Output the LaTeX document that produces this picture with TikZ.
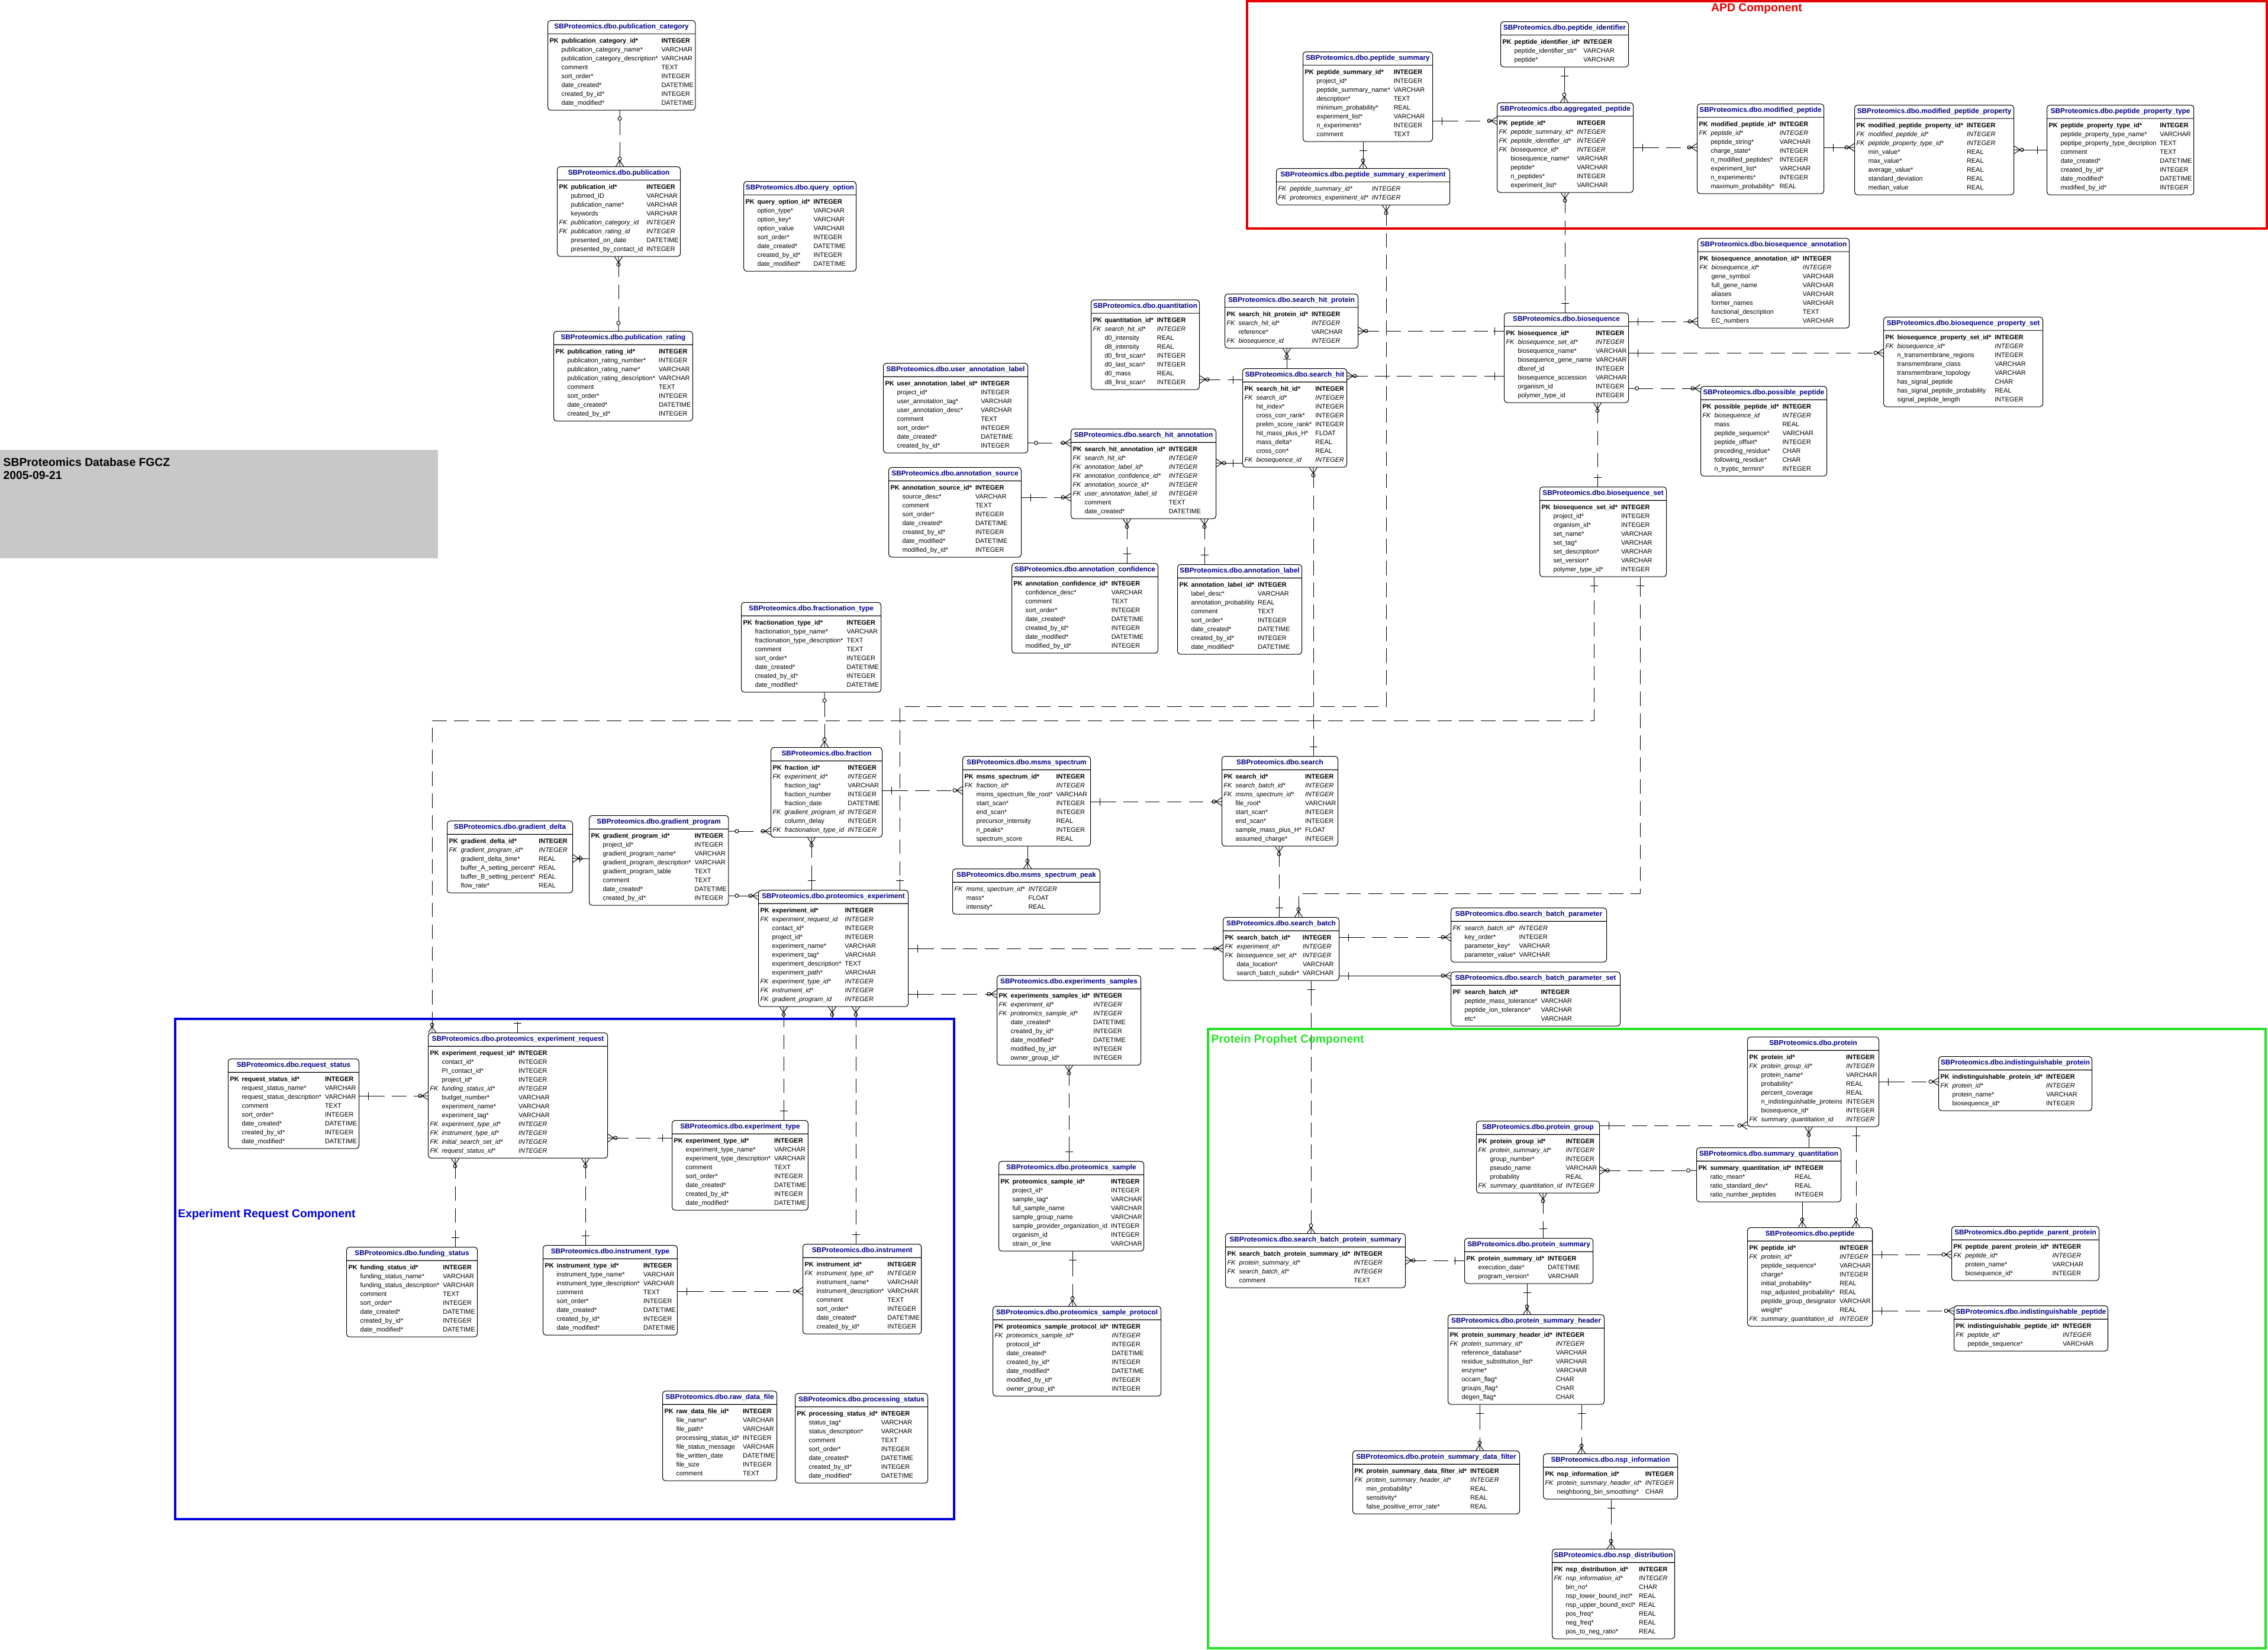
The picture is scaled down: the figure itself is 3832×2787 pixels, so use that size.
\documentclass[tikz,border=0pt]{standalone}
\usepackage{fontspec}
\setmainfont{Liberation Sans}
\usepackage{xcolor}
\usepackage{tikz}
\usetikzlibrary{shapes.multipart,arrows.meta}

\definecolor{titlenavy}{RGB}{0,0,128}
\definecolor{apdred}{RGB}{230,0,0}
\definecolor{reqblue}{RGB}{0,0,220}
\definecolor{ppgreen}{RGB}{40,225,40}
\definecolor{stampgray}{RGB}{200,200,200}

\pgfdeclarearrow{
	name = erCrow,
	setup code = {
		\pgfarrowssettipend{0pt}
		\pgfarrowssetbackend{-2.85pt}
		\pgfarrowssetlineend{-2.85pt}
	},
	drawing code = {
		\pgfsetdash{}{0pt}
		\pgfpathmoveto{\pgfqpoint{0pt}{1.85pt}}
		\pgfpathlineto{\pgfqpoint{-2.85pt}{0pt}}
		\pgfpathlineto{\pgfqpoint{0pt}{-1.85pt}}
		\pgfpathmoveto{\pgfqpoint{-2.85pt}{0pt}}
		\pgfpathlineto{\pgfqpoint{0pt}{0pt}}
		\pgfusepathqstroke
	}
}
\pgfdeclarearrow{
	name = erCirc,
	setup code = {
		\pgfarrowssettipend{0pt}
		\pgfarrowssetbackend{-1.7pt}
		\pgfarrowssetlineend{-1.7pt}
	},
	drawing code = {
		\pgfsetdash{}{0pt}
		\pgfpathcircle{\pgfqpoint{-0.85pt}{0pt}}{0.85pt}
		\pgfusepathqstroke
	}
}
\pgfdeclarearrow{
	name = erZero,
	setup code = {
		\pgfarrowssettipend{0pt}
		\pgfarrowssetbackend{-4.7pt}
		\pgfarrowssetlineend{-4.7pt}
	},
	drawing code = {
		\pgfsetdash{}{0pt}
		\pgfpathmoveto{\pgfqpoint{0pt}{0pt}}
		\pgfpathlineto{\pgfqpoint{-3pt}{0pt}}
		\pgfpathcircle{\pgfqpoint{-3.85pt}{0pt}}{0.85pt}
		\pgfusepathqstroke
	}
}
\pgfdeclarearrow{
	name = erOne,
	setup code = {
		\pgfarrowssettipend{0pt}
		\pgfarrowssetbackend{-5.1pt}
		\pgfarrowssetlineend{-5.1pt}
	},
	drawing code = {
		\pgfsetdash{}{0pt}
		\pgfpathmoveto{\pgfqpoint{0pt}{0pt}}
		\pgfpathlineto{\pgfqpoint{-5.1pt}{0pt}}
		\pgfpathmoveto{\pgfqpoint{-4.3pt}{1.85pt}}
		\pgfpathlineto{\pgfqpoint{-4.3pt}{-1.85pt}}
		\pgfusepathqstroke
	}
}

\newcommand{\pkey}[2]{\textbf{PK}&\textbf{#1}&\textbf{#2}\\}
\newcommand{\pfkey}[2]{\textbf{PF}&\textbf{#1}&\textbf{#2}\\}
\newcommand{\fkey}[2]{\textit{FK}&\textit{#1}&\textit{#2}\\}
\newcommand{\fld}[2]{&#1&#2\\}
\newcommand{\ertable}[5]{%
	\node[ertable, minimum width=#3*0.01cm] (#1) at (#2)
		{\textcolor{titlenavy}{\fontsize{3.35}{3.95}\selectfont\bfseries\rule[-1.15pt]{0pt}{3.95pt}#4}%
		\nodepart{two}\begin{tabular}{@{}p{5.7pt}@{}l@{\hspace{1.7pt}}l@{}}#5\end{tabular}};%
}

\begin{document}
\catcode`\_=12
\begin{tikzpicture}[x=0.01cm, y=-0.01cm,
	ertable/.style={rectangle split, rectangle split parts=2, draw, fill=white, line width=0.3pt,
		rounded corners=1.4pt, inner xsep=0.85pt, inner ysep=1.1pt, anchor=north west,
		rectangle split part align={center,left}, font=\fontsize{3.1}{4.27}\selectfont},
	rel/.style={line width=0.28pt, dash pattern=on 7pt off 3.5pt},
	idrel/.style={line width=0.28pt},
	onemany/.style={arrows={{erOne[]}-{erCirc[] erCrow[]}}},
	manyone/.style={arrows={{erCrow[] erCirc[]}-{erOne[]}}},
	zeromany/.style={arrows={{erZero[]}-{erCirc[] erCrow[]}}},
	manyzero/.style={arrows={{erCrow[] erCirc[]}-{erZero[]}}},
	manyplain/.style={arrows={{erCrow[] erCirc[]}-}},
	plainmany/.style={arrows={-{erCirc[] erCrow[]}}},
	comptitle/.style={font=\fontsize{5.5}{6.3}\selectfont\bfseries, inner sep=0pt}]
	\useasboundingbox (0,0) rectangle (3832,2787);

	\fill[stampgray] (0,760) rectangle (740,943);
	\node[comptitle, anchor=north west, align=left, font=\fontsize{5.5}{6.26}\selectfont\bfseries] (stamp) at (5,773) {SBProteomics Database FGCZ\\2005-09-21};

	\ertable{pubcat}{925,34}{249}{SBProteomics.dbo.publication_category}{%
		\pkey{publication_category_id*}{INTEGER}
		\fld{publication_category_name*}{VARCHAR}
		\fld{publication_category_description*}{VARCHAR}
		\fld{comment}{TEXT}
		\fld{sort_order*}{INTEGER}
		\fld{date_created*}{DATETIME}
		\fld{created_by_id*}{INTEGER}
		\fld{date_modified*}{DATETIME}}
	\ertable{pub}{941,281}{207}{SBProteomics.dbo.publication}{%
		\pkey{publication_id*}{INTEGER}
		\fld{pubmed_ID}{VARCHAR}
		\fld{publication_name*}{VARCHAR}
		\fld{keywords}{VARCHAR}
		\fkey{publication_category_id}{INTEGER}
		\fkey{publication_rating_id}{INTEGER}
		\fld{presented_on_date}{DATETIME}
		\fld{presented_by_contact_id}{INTEGER}}
	\ertable{queryopt}{1256,306}{190}{SBProteomics.dbo.query_option}{%
		\pkey{query_option_id*}{INTEGER}
		\fld{option_type*}{VARCHAR}
		\fld{option_key*}{VARCHAR}
		\fld{option_value}{VARCHAR}
		\fld{sort_order*}{INTEGER}
		\fld{date_created*}{DATETIME}
		\fld{created_by_id*}{INTEGER}
		\fld{date_modified*}{DATETIME}}
	\ertable{pubrating}{935,559}{232}{SBProteomics.dbo.publication_rating}{%
		\pkey{publication_rating_id*}{INTEGER}
		\fld{publication_rating_number*}{INTEGER}
		\fld{publication_rating_name*}{VARCHAR}
		\fld{publication_rating_description*}{VARCHAR}
		\fld{comment}{TEXT}
		\fld{sort_order*}{INTEGER}
		\fld{date_created*}{DATETIME}
		\fld{created_by_id*}{INTEGER}}

	\ertable{pepsummary}{2201,87}{219}{SBProteomics.dbo.peptide_summary}{%
		\pkey{peptide_summary_id*}{INTEGER}
		\fld{project_id*}{INTEGER}
		\fld{peptide_summary_name*}{VARCHAR}
		\fld{description*}{TEXT}
		\fld{minimum_probability*}{REAL}
		\fld{experiment_list*}{VARCHAR}
		\fld{n_experiments*}{INTEGER}
		\fld{comment}{TEXT}}
	\ertable{pepident}{2535,36}{216}{SBProteomics.dbo.peptide_identifier}{%
		\pkey{peptide_identifier_id*}{INTEGER}
		\fld{peptide_identifier_str*}{VARCHAR}
		\fld{peptide*}{VARCHAR}}
	\ertable{aggpep}{2529,173}{230}{SBProteomics.dbo.aggregated_peptide}{%
		\pkey{peptide_id*}{INTEGER}
		\fkey{peptide_summary_id*}{INTEGER}
		\fkey{peptide_identifier_id*}{INTEGER}
		\fkey{biosequence_id*}{INTEGER}
		\fld{biosequence_name*}{VARCHAR}
		\fld{peptide*}{VARCHAR}
		\fld{n_peptides*}{INTEGER}
		\fld{experiment_list*}{VARCHAR}}
	\ertable{pepsumexp}{2156,284}{293}{SBProteomics.dbo.peptide_summary_experiment}{%
		\fkey{peptide_summary_id*}{INTEGER}
		\fkey{proteomics_experiment_id*}{INTEGER}}
	\ertable{modpep}{2867,175}{214}{SBProteomics.dbo.modified_peptide}{%
		\pkey{modified_peptide_id*}{INTEGER}
		\fkey{peptide_id*}{INTEGER}
		\fld{peptide_string*}{VARCHAR}
		\fld{charge_state*}{INTEGER}
		\fld{n_modified_peptides*}{INTEGER}
		\fld{experiment_list*}{VARCHAR}
		\fld{n_experiments*}{INTEGER}
		\fld{maximum_probability*}{REAL}}
	\ertable{modpepprop}{3133,177}{269}{SBProteomics.dbo.modified_peptide_property}{%
		\pkey{modified_peptide_property_id*}{INTEGER}
		\fkey{modified_peptide_id*}{INTEGER}
		\fkey{peptide_property_type_id*}{INTEGER}
		\fld{min_value*}{REAL}
		\fld{max_value*}{REAL}
		\fld{average_value*}{REAL}
		\fld{standard_deviation}{REAL}
		\fld{median_value}{REAL}}
	\ertable{pepproptype}{3458,177}{246}{SBProteomics.dbo.peptide_property_type}{%
		\pkey{peptide_property_type_id*}{INTEGER}
		\fld{peptide_property_type_name*}{VARCHAR}
		\fld{peptipe_property_type_decription}{TEXT}
		\fld{comment}{TEXT}
		\fld{date_created*}{DATETIME}
		\fld{created_by_id*}{INTEGER}
		\fld{date_modified*}{DATETIME}
		\fld{modified_by_id*}{INTEGER}}

	\ertable{quant}{1843,506}{183}{SBProteomics.dbo.quantitation}{%
		\pkey{quantitation_id*}{INTEGER}
		\fkey{search_hit_id*}{INTEGER}
		\fld{d0_intensity}{REAL}
		\fld{d8_intensity}{REAL}
		\fld{d0_first_scan*}{INTEGER}
		\fld{d0_last_scan*}{INTEGER}
		\fld{d0_mass}{REAL}
		\fld{d8_first_scan*}{INTEGER}}
	\ertable{shprotein}{2069,496}{225}{SBProteomics.dbo.search_hit_protein}{%
		\pkey{search_hit_protein_id*}{INTEGER}
		\fkey{search_hit_id*}{INTEGER}
		\fld{reference*}{VARCHAR}
		\fkey{biosequence_id}{INTEGER}}
	\ertable{userlabel}{1492,613}{244}{SBProteomics.dbo.user_annotation_label}{%
		\pkey{user_annotation_label_id*}{INTEGER}
		\fld{project_id*}{INTEGER}
		\fld{user_annotation_tag*}{VARCHAR}
		\fld{user_annotation_desc*}{VARCHAR}
		\fld{comment}{TEXT}
		\fld{sort_order*}{INTEGER}
		\fld{date_created*}{DATETIME}
		\fld{created_by_id*}{INTEGER}}
	\ertable{searchhit}{2099,622}{176}{SBProteomics.dbo.search_hit}{%
		\pkey{search_hit_id*}{INTEGER}
		\fkey{search_id*}{INTEGER}
		\fld{hit_index*}{INTEGER}
		\fld{cross_corr_rank*}{INTEGER}
		\fld{prelim_score_rank*}{INTEGER}
		\fld{hit_mass_plus_H*}{FLOAT}
		\fld{mass_delta*}{REAL}
		\fld{cross_corr*}{REAL}
		\fkey{biosequence_id}{INTEGER}}
	\ertable{shannot}{1809,724}{245}{SBProteomics.dbo.search_hit_annotation}{%
		\pkey{search_hit_annotation_id*}{INTEGER}
		\fkey{search_hit_id*}{INTEGER}
		\fkey{annotation_label_id*}{INTEGER}
		\fkey{annotation_confidence_id*}{INTEGER}
		\fkey{annotation_source_id*}{INTEGER}
		\fkey{user_annotation_label_id}{INTEGER}
		\fld{comment}{TEXT}
		\fld{date_created*}{DATETIME}}
	\ertable{annsource}{1501,789}{224}{SBProteomics.dbo.annotation_source}{%
		\pkey{annotation_source_id*}{INTEGER}
		\fld{source_desc*}{VARCHAR}
		\fld{comment}{TEXT}
		\fld{sort_order*}{INTEGER}
		\fld{date_created*}{DATETIME}
		\fld{created_by_id*}{INTEGER}
		\fld{date_modified*}{DATETIME}
		\fld{modified_by_id*}{INTEGER}}
	\ertable{annconf}{1709,951}{247}{SBProteomics.dbo.annotation_confidence}{%
		\pkey{annotation_confidence_id*}{INTEGER}
		\fld{confidence_desc*}{VARCHAR}
		\fld{comment}{TEXT}
		\fld{sort_order*}{INTEGER}
		\fld{date_created*}{DATETIME}
		\fld{created_by_id*}{INTEGER}
		\fld{date_modified*}{DATETIME}
		\fld{modified_by_id*}{INTEGER}}
	\ertable{annlabel}{1989,953}{210}{SBProteomics.dbo.annotation_label}{%
		\pkey{annotation_label_id*}{INTEGER}
		\fld{label_desc*}{VARCHAR}
		\fld{annotation_probability}{REAL}
		\fld{comment}{TEXT}
		\fld{sort_order*}{INTEGER}
		\fld{date_created*}{DATETIME}
		\fld{created_by_id*}{INTEGER}
		\fld{date_modified*}{DATETIME}}

	\ertable{bioannot}{2868,402}{256}{SBProteomics.dbo.biosequence_annotation}{%
		\pkey{biosequence_annotation_id*}{INTEGER}
		\fkey{biosequence_id*}{INTEGER}
		\fld{gene_symbol}{VARCHAR}
		\fld{full_gene_name}{VARCHAR}
		\fld{aliases}{VARCHAR}
		\fld{former_names}{VARCHAR}
		\fld{functional_description}{TEXT}
		\fld{EC_numbers}{VARCHAR}}
	\ertable{bioseq}{2541,528}{209}{SBProteomics.dbo.biosequence}{%
		\pkey{biosequence_id*}{INTEGER}
		\fkey{biosequence_set_id*}{INTEGER}
		\fld{biosequence_name*}{VARCHAR}
		\fld{biosequence_gene_name}{VARCHAR}
		\fld{dbxref_id}{INTEGER}
		\fld{biosequence_accession}{VARCHAR}
		\fld{organism_id}{INTEGER}
		\fld{polymer_type_id}{INTEGER}}
	\ertable{biopropset}{3182,535}{269}{SBProteomics.dbo.biosequence_property_set}{%
		\pkey{biosequence_property_set_id*}{INTEGER}
		\fkey{biosequence_id*}{INTEGER}
		\fld{n_transmembrane_regions}{INTEGER}
		\fld{transmembrane_class}{VARCHAR}
		\fld{transmembrane_topology}{VARCHAR}
		\fld{has_signal_peptide}{CHAR}
		\fld{has_signal_peptide_probability}{REAL}
		\fld{signal_peptide_length}{INTEGER}}
	\ertable{posspep}{2873,652}{213}{SBProteomics.dbo.possible_peptide}{%
		\pkey{possible_peptide_id*}{INTEGER}
		\fkey{biosequence_id}{INTEGER}
		\fld{mass}{REAL}
		\fld{peptide_sequence*}{VARCHAR}
		\fld{peptide_offset*}{INTEGER}
		\fld{preceding_residue*}{CHAR}
		\fld{following_residue*}{CHAR}
		\fld{n_tryptic_termini*}{INTEGER}}
	\ertable{bioset}{2601,822}{214}{SBProteomics.dbo.biosequence_set}{%
		\pkey{biosequence_set_id*}{INTEGER}
		\fld{project_id*}{INTEGER}
		\fld{organism_id*}{INTEGER}
		\fld{set_name*}{VARCHAR}
		\fld{set_tag*}{VARCHAR}
		\fld{set_description*}{VARCHAR}
		\fld{set_version*}{VARCHAR}
		\fld{polymer_type_id*}{INTEGER}}

	\ertable{fractype}{1252,1017}{236}{SBProteomics.dbo.fractionation_type}{%
		\pkey{fractionation_type_id*}{INTEGER}
		\fld{fractionation_type_name*}{VARCHAR}
		\fld{fractionation_type_description*}{TEXT}
		\fld{comment}{TEXT}
		\fld{sort_order*}{INTEGER}
		\fld{date_created*}{DATETIME}
		\fld{created_by_id*}{INTEGER}
		\fld{date_modified*}{DATETIME}}
	\ertable{fraction}{1302,1262}{188}{SBProteomics.dbo.fraction}{%
		\pkey{fraction_id*}{INTEGER}
		\fkey{experiment_id*}{INTEGER}
		\fld{fraction_tag*}{VARCHAR}
		\fld{fraction_number}{INTEGER}
		\fld{fraction_date}{DATETIME}
		\fkey{gradient_program_id}{INTEGER}
		\fld{column_delay}{INTEGER}
		\fkey{fractionation_type_id}{INTEGER}}
	\ertable{graddelta}{755,1386}{212}{SBProteomics.dbo.gradient_delta}{%
		\pkey{gradient_delta_id*}{INTEGER}
		\fkey{gradient_program_id*}{INTEGER}
		\fld{gradient_delta_time*}{REAL}
		\fld{buffer_A_setting_percent*}{REAL}
		\fld{buffer_B_setting_percent*}{REAL}
		\fld{flow_rate*}{REAL}}
	\ertable{gradprog}{995,1377}{234}{SBProteomics.dbo.gradient_program}{%
		\pkey{gradient_program_id*}{INTEGER}
		\fld{project_id*}{INTEGER}
		\fld{gradient_program_name*}{VARCHAR}
		\fld{gradient_program_description*}{VARCHAR}
		\fld{gradient_program_table}{TEXT}
		\fld{comment}{TEXT}
		\fld{date_created*}{DATETIME}
		\fld{created_by_id*}{INTEGER}}
	\ertable{protexp}{1281,1503}{253}{SBProteomics.dbo.proteomics_experiment}{%
		\pkey{experiment_id*}{INTEGER}
		\fkey{experiment_request_id}{INTEGER}
		\fld{contact_id*}{INTEGER}
		\fld{project_id*}{INTEGER}
		\fld{experiment_name*}{VARCHAR}
		\fld{experiment_tag*}{VARCHAR}
		\fld{experiment_description*}{TEXT}
		\fld{experiment_path*}{VARCHAR}
		\fkey{experiment_type_id*}{INTEGER}
		\fkey{instrument_id*}{INTEGER}
		\fkey{gradient_program_id}{INTEGER}}
	\ertable{msms}{1626,1277}{216}{SBProteomics.dbo.msms_spectrum}{%
		\pkey{msms_spectrum_id*}{INTEGER}
		\fkey{fraction_id*}{INTEGER}
		\fld{msms_spectrum_file_root*}{VARCHAR}
		\fld{start_scan*}{INTEGER}
		\fld{end_scan*}{INTEGER}
		\fld{precursor_intensity}{REAL}
		\fld{n_peaks*}{INTEGER}
		\fld{spectrum_score}{REAL}}
	\ertable{msmspeak}{1609,1467}{249}{SBProteomics.dbo.msms_spectrum_peak}{%
		\fkey{msms_spectrum_id*}{INTEGER}
		\fld{mass*}{FLOAT}
		\fld{intensity*}{REAL}}
	\ertable{search}{2064,1277}{193}{SBProteomics.dbo.search}{%
		\pkey{search_id*}{INTEGER}
		\fkey{search_batch_id*}{INTEGER}
		\fkey{msms_spectrum_id*}{INTEGER}
		\fld{file_root*}{VARCHAR}
		\fld{start_scan*}{INTEGER}
		\fld{end_scan*}{INTEGER}
		\fld{sample_mass_plus_H*}{FLOAT}
		\fld{assumed_charge*}{INTEGER}}
	\ertable{searchbatch}{2066,1549}{196}{SBProteomics.dbo.search_batch}{%
		\pkey{search_batch_id*}{INTEGER}
		\fkey{experiment_id*}{INTEGER}
		\fkey{biosequence_set_id*}{INTEGER}
		\fld{data_location*}{VARCHAR}
		\fld{search_batch_subdir*}{VARCHAR}}
	\ertable{sbparam}{2451,1533}{263}{SBProteomics.dbo.search_batch_parameter}{%
		\fkey{search_batch_id*}{INTEGER}
		\fld{key_order*}{INTEGER}
		\fld{parameter_key*}{VARCHAR}
		\fld{parameter_value*}{VARCHAR}}
	\ertable{sbparamset}{2451,1641}{286}{SBProteomics.dbo.search_batch_parameter_set}{%
		\pfkey{search_batch_id*}{INTEGER}
		\fld{peptide_mass_tolerance*}{VARCHAR}
		\fld{peptide_ion_tolerance*}{VARCHAR}
		\fld{etc*}{VARCHAR}}
	\ertable{expsamples}{1684,1647}{243}{SBProteomics.dbo.experiments_samples}{%
		\pkey{experiments_samples_id*}{INTEGER}
		\fkey{experiment_id*}{INTEGER}
		\fkey{proteomics_sample_id*}{INTEGER}
		\fld{date_created*}{DATETIME}
		\fld{created_by_id*}{INTEGER}
		\fld{date_modified*}{DATETIME}
		\fld{modified_by_id*}{INTEGER}
		\fld{owner_group_id*}{INTEGER}}
	\ertable{protsample}{1687,1961}{245}{SBProteomics.dbo.proteomics_sample}{%
		\pkey{proteomics_sample_id*}{INTEGER}
		\fld{project_id*}{INTEGER}
		\fld{sample_tag*}{VARCHAR}
		\fld{full_sample_name}{VARCHAR}
		\fld{sample_group_name}{VARCHAR}
		\fld{sample_provider_organization_id}{INTEGER}
		\fld{organism_id}{INTEGER}
		\fld{strain_or_line}{VARCHAR}}
	\ertable{sampleprotocol}{1677,2206}{284}{SBProteomics.dbo.proteomics_sample_protocol}{%
		\pkey{proteomics_sample_protocol_id*}{INTEGER}
		\fkey{proteomics_sample_id*}{INTEGER}
		\fld{protocol_id*}{INTEGER}
		\fld{date_created*}{DATETIME}
		\fld{created_by_id*}{INTEGER}
		\fld{date_modified*}{DATETIME}
		\fld{modified_by_id*}{INTEGER}
		\fld{owner_group_id*}{INTEGER}}

	\ertable{reqstatus}{385,1788}{221}{SBProteomics.dbo.request_status}{%
		\pkey{request_status_id*}{INTEGER}
		\fld{request_status_name*}{VARCHAR}
		\fld{request_status_description*}{VARCHAR}
		\fld{comment}{TEXT}
		\fld{sort_order*}{INTEGER}
		\fld{date_created*}{DATETIME}
		\fld{created_by_id*}{INTEGER}
		\fld{date_modified*}{DATETIME}}
	\ertable{expreq}{723,1744}{303}{SBProteomics.dbo.proteomics_experiment_request}{%
		\pkey{experiment_request_id*}{INTEGER}
		\fld{contact_id*}{INTEGER}
		\fld{PI_contact_id*}{INTEGER}
		\fld{project_id*}{INTEGER}
		\fkey{funding_status_id*}{INTEGER}
		\fld{budget_number*}{VARCHAR}
		\fld{experiment_name*}{VARCHAR}
		\fld{experiment_tag*}{VARCHAR}
		\fkey{experiment_type_id*}{INTEGER}
		\fkey{instrument_type_id*}{INTEGER}
		\fkey{initial_search_set_id*}{INTEGER}
		\fkey{request_status_id*}{INTEGER}}
	\ertable{exptype}{1135,1892}{227}{SBProteomics.dbo.experiment_type}{%
		\pkey{experiment_type_id*}{INTEGER}
		\fld{experiment_type_name*}{VARCHAR}
		\fld{experiment_type_description*}{VARCHAR}
		\fld{comment}{TEXT}
		\fld{sort_order*}{INTEGER}
		\fld{date_created*}{DATETIME}
		\fld{created_by_id*}{INTEGER}
		\fld{date_modified*}{DATETIME}}
	\ertable{fundstatus}{585,2106}{221}{SBProteomics.dbo.funding_status}{%
		\pkey{funding_status_id*}{INTEGER}
		\fld{funding_status_name*}{VARCHAR}
		\fld{funding_status_description*}{VARCHAR}
		\fld{comment}{TEXT}
		\fld{sort_order*}{INTEGER}
		\fld{date_created*}{DATETIME}
		\fld{created_by_id*}{INTEGER}
		\fld{date_modified*}{DATETIME}}
	\ertable{insttype}{917,2103}{225}{SBProteomics.dbo.instrument_type}{%
		\pkey{instrument_type_id*}{INTEGER}
		\fld{instrument_type_name*}{VARCHAR}
		\fld{instrument_type_description*}{VARCHAR}
		\fld{comment}{TEXT}
		\fld{sort_order*}{INTEGER}
		\fld{date_created*}{DATETIME}
		\fld{created_by_id*}{INTEGER}
		\fld{date_modified*}{DATETIME}}
	\ertable{instrument}{1356,2101}{198}{SBProteomics.dbo.instrument}{%
		\pkey{instrument_id*}{INTEGER}
		\fkey{instrument_type_id*}{INTEGER}
		\fld{instrument_name*}{VARCHAR}
		\fld{instrument_description*}{VARCHAR}
		\fld{comment}{TEXT}
		\fld{sort_order*}{INTEGER}
		\fld{date_created*}{DATETIME}
		\fld{created_by_id*}{INTEGER}}
	\ertable{rawdata}{1119,2349}{193}{SBProteomics.dbo.raw_data_file}{%
		\pkey{raw_data_file_id*}{INTEGER}
		\fld{file_name*}{VARCHAR}
		\fld{file_path*}{VARCHAR}
		\fld{processing_status_id*}{INTEGER}
		\fld{file_status_message}{VARCHAR}
		\fld{file_written_date}{DATETIME}
		\fld{file_size}{INTEGER}
		\fld{comment}{TEXT}}
	\ertable{procstatus}{1343,2353}{224}{SBProteomics.dbo.processing_status}{%
		\pkey{processing_status_id*}{INTEGER}
		\fld{status_tag*}{VARCHAR}
		\fld{status_description*}{VARCHAR}
		\fld{comment}{TEXT}
		\fld{sort_order*}{INTEGER}
		\fld{date_created*}{DATETIME}
		\fld{created_by_id*}{INTEGER}
		\fld{date_modified*}{DATETIME}}

	\ertable{protein}{2952,1751}{219}{SBProteomics.dbo.protein}{%
		\pkey{protein_id*}{INTEGER}
		\fkey{protein_group_id*}{INTEGER}
		\fld{protein_name*}{VARCHAR}
		\fld{probability*}{REAL}
		\fld{percent_coverage}{REAL}
		\fld{n_indistinguishable_proteins}{INTEGER}
		\fld{biosequence_id*}{INTEGER}
		\fkey{summary_quantitation_id}{INTEGER}}
	\ertable{indprotein}{3275,1784}{259}{SBProteomics.dbo.indistinguishable_protein}{%
		\pkey{indistinguishable_protein_id*}{INTEGER}
		\fkey{protein_id*}{INTEGER}
		\fld{protein_name*}{VARCHAR}
		\fld{biosequence_id*}{INTEGER}}
	\ertable{protgroup}{2494,1893}{208}{SBProteomics.dbo.protein_group}{%
		\pkey{protein_group_id*}{INTEGER}
		\fkey{protein_summary_id*}{INTEGER}
		\fld{group_number*}{INTEGER}
		\fld{pseudo_name}{VARCHAR}
		\fld{probability}{REAL}
		\fkey{summary_quantitation_id}{INTEGER}}
	\ertable{sumquant}{2866,1938}{244}{SBProteomics.dbo.summary_quantitation}{%
		\pkey{summary_quantitation_id*}{INTEGER}
		\fld{ratio_mean*}{REAL}
		\fld{ratio_standard_dev*}{REAL}
		\fld{ratio_number_peptides}{INTEGER}}
	\ertable{peptide}{2952,2073}{210}{SBProteomics.dbo.peptide}{%
		\pkey{peptide_id*}{INTEGER}
		\fkey{protein_id*}{INTEGER}
		\fld{peptide_sequence*}{VARCHAR}
		\fld{charge*}{INTEGER}
		\fld{initial_probability*}{REAL}
		\fld{nsp_adjusted_probability*}{REAL}
		\fld{peptide_group_designator}{VARCHAR}
		\fld{weight*}{REAL}
		\fkey{summary_quantitation_id}{INTEGER}}
	\ertable{pepparent}{3297,2071}{249}{SBProteomics.dbo.peptide_parent_protein}{%
		\pkey{peptide_parent_protein_id*}{INTEGER}
		\fkey{peptide_id*}{INTEGER}
		\fld{protein_name*}{VARCHAR}
		\fld{biosequence_id*}{INTEGER}}
	\ertable{indpeptide}{3301,2205}{257}{SBProteomics.dbo.indistinguishable_peptide}{%
		\pkey{indistinguishable_peptide_id*}{INTEGER}
		\fkey{peptide_id*}{INTEGER}
		\fld{peptide_sequence*}{VARCHAR}}
	\ertable{sbprotsum}{2070,2083}{304}{SBProteomics.dbo.search_batch_protein_summary}{%
		\pkey{search_batch_protein_summary_id*}{INTEGER}
		\fkey{protein_summary_id*}{INTEGER}
		\fkey{search_batch_id*}{INTEGER}
		\fld{comment}{TEXT}}
	\ertable{protsum}{2474,2091}{217}{SBProteomics.dbo.protein_summary}{%
		\pkey{protein_summary_id*}{INTEGER}
		\fld{execution_date*}{DATETIME}
		\fld{program_version*}{VARCHAR}}
	\ertable{protsumheader}{2446,2220}{264}{SBProteomics.dbo.protein_summary_header}{%
		\pkey{protein_summary_header_id*}{INTEGER}
		\fkey{protein_summary_id*}{INTEGER}
		\fld{reference_database*}{VARCHAR}
		\fld{residue_substitution_list*}{VARCHAR}
		\fld{enzyme*}{VARCHAR}
		\fld{occam_flag*}{CHAR}
		\fld{groups_flag*}{CHAR}
		\fld{degen_flag*}{CHAR}}
	\ertable{psdatafilter}{2285,2450}{282}{SBProteomics.dbo.protein_summary_data_filter}{%
		\pkey{protein_summary_data_filter_id*}{INTEGER}
		\fkey{protein_summary_header_id*}{INTEGER}
		\fld{min_probability*}{REAL}
		\fld{sensitivity*}{REAL}
		\fld{false_positive_error_rate*}{REAL}}
	\ertable{nspinfo}{2607,2455}{227}{SBProteomics.dbo.nsp_information}{%
		\pkey{nsp_information_id*}{INTEGER}
		\fkey{protein_summary_header_id*}{INTEGER}
		\fld{neighboring_bin_smoothing*}{CHAR}}
	\ertable{nspdist}{2622,2616}{206}{SBProteomics.dbo.nsp_distribution}{%
		\pkey{nsp_distribution_id*}{INTEGER}
		\fkey{nsp_information_id*}{INTEGER}
		\fld{bin_no*}{CHAR}
		\fld{nsp_lower_bound_incl*}{REAL}
		\fld{nsp_upper_bound_excl*}{REAL}
		\fld{pos_freq*}{REAL}
		\fld{neg_freq*}{REAL}
		\fld{pos_to_neg_ratio*}{REAL}}

	\draw[rel, zeromany] (pubcat.south -| 1047,0) -- (pub.north -| 1047,0);
	\draw[rel, manyzero] (pub.south -| 1045,0) -- (pubrating.north -| 1045,0);
	\draw[rel, onemany] (pepsummary.east |- 0,204) -- (aggpep.west |- 0,204);
	\draw[rel, onemany] (pepident.south -| 2643,0) -- (aggpep.north -| 2643,0);
	\draw[idrel, onemany] (pepsummary.south -| 2303,0) -- (pepsumexp.north -| 2303,0);
	\draw[rel, onemany] (aggpep.east |- 0,249) -- (modpep.west |- 0,249);
	\draw[rel, onemany] (modpep.east |- 0,249) -- (modpepprop.west |- 0,249);
	\draw[rel, onemany] (pepproptype.west |- 0,253) -- (modpepprop.east |- 0,253);
	\draw[rel, manyone] (aggpep.south -| 2644,0) -- (bioseq.north -| 2644,0);
	\draw[rel, manyone] (pepsumexp.south -| 2342,0) |- (1520,1193) -- (protexp.north -| 1520,0);
	\draw[rel, manyone] (quant.east |- 0,641) -- (searchhit.west |- 0,641);
	\draw[rel, manyone] (shprotein.south -| 2174,0) -- (searchhit.north -| 2174,0);
	\draw[rel, manyone] (shprotein.east |- 0,559) -- (bioseq.west |- 0,559);
	\draw[rel, manyone] (searchhit.east |- 0,635) -- (bioseq.west |- 0,635);
	\draw[rel, manyone] (shannot.east |- 0,782) -- (searchhit.west |- 0,782);
	\draw[rel, zeromany] (userlabel.east |- 0,748) -- (shannot.west |- 0,748);
	\draw[rel, onemany] (annsource.east |- 0,840) -- (shannot.west |- 0,840);
	\draw[rel, manyone] (shannot.south -| 1904,0) -- (annconf.north -| 1904,0);
	\draw[rel, manyone] (shannot.south -| 2035,0) -- (annlabel.north -| 2035,0);
	\draw[rel, manyone] (searchhit.south -| 2219,0) -- (search.north -| 2219,0);
	\draw[rel, onemany] (bioseq.east |- 0,543) -- (bioannot.west |- 0,543);
	\draw[rel, onemany] (bioseq.east |- 0,596) -- (biopropset.west |- 0,596);
	\draw[rel, zeromany] (bioseq.east |- 0,656) -- (posspep.west |- 0,656);
	\draw[rel, manyone] (bioseq.south -| 2699,0) -- (bioset.north -| 2699,0);
	\draw[rel, manyone] (expreq.north -| 730,0) |- (2693,1217) -- (bioset.south -| 2693,0);
	\draw[rel, manyone] (searchbatch.north -| 2194,0) |- (2771,1509) -- (bioset.south -| 2771,0);
	\draw[rel, zeromany] (fractype.south -| 1393,0) -- (fraction.north -| 1393,0);
	\draw[rel, manyone] (graddelta.east |- 0,1450) -- (gradprog.west |- 0,1450);
	\draw[rel, zeromany] (gradprog.east |- 0,1404) -- (fraction.west |- 0,1404);
	\draw[rel, zeromany] (gradprog.east |- 0,1513) -- (protexp.west |- 0,1513);
	\draw[rel, manyone] (fraction.south -| 1371,0) -- (protexp.north -| 1371,0);
	\draw[rel, onemany] (fraction.east |- 0,1335) -- (msms.west |- 0,1335);
	\draw[rel, onemany] (protexp.east |- 0,1602) -- (searchbatch.west |- 0,1602);
	\draw[rel, onemany] (protexp.east |- 0,1679) -- (expsamples.west |- 0,1679);
	\draw[rel, manyone] (protexp.south -| 1324,0) -- (exptype.north -| 1324,0);
	\draw[rel, manyone] (protexp.south -| 1446,0) -- (instrument.north -| 1446,0);
	\draw[rel, manyone] (protexp.south -| 1406,0) |- (874,1722) -- (expreq.north -| 874,0);
	\draw[rel, onemany] (msms.east |- 0,1354) -- (search.west |- 0,1354);
	\draw[idrel, plainmany] (msms.south -| 1736,0) -- (msmspeak.north -| 1736,0);
	\draw[rel, manyone] (search.south -| 2161,0) -- (searchbatch.north -| 2161,0);
	\draw[rel, onemany] (searchbatch.east |- 0,1583) -- (sbparam.west |- 0,1583);
	\draw[idrel, onemany] (searchbatch.east |- 0,1648) -- (sbparamset.west |- 0,1648);
	\draw[rel, onemany] (searchbatch.south -| 2215,0) -- (sbprotsum.north -| 2215,0);
	\draw[rel, manyone] (expsamples.south -| 1806,0) -- (protsample.north -| 1806,0);
	\draw[rel, onemany] (protsample.south -| 1812,0) -- (sampleprotocol.north -| 1812,0);
	\draw[rel, onemany] (reqstatus.east |- 0,1851) -- (expreq.west |- 0,1851);
	\draw[rel, manyone] (expreq.east |- 0,1922) -- (exptype.west |- 0,1922);
	\draw[rel, manyone] (expreq.south -| 769,0) -- (fundstatus.north -| 769,0);
	\draw[rel, manyone] (expreq.south -| 989,0) -- (insttype.north -| 989,0);
	\draw[rel, onemany] (insttype.east |- 0,2181) -- (instrument.west |- 0,2181);
	\draw[rel, onemany] (protgroup.east |- 0,1901) -- (protein.west |- 0,1901);
	\draw[rel, onemany] (protein.east |- 0,1827) -- (indprotein.west |- 0,1827);
	\draw[idrel, manyplain] (protein.south -| 3056,0) -- (sumquant.north -| 3056,0);
	\draw[rel, onemany] (protein.south -| 3136,0) -- (peptide.north -| 3136,0);
	\draw[rel, manyzero] (protgroup.east |- 0,1977) -- (sumquant.west |- 0,1977);
	\draw[rel, manyone] (protgroup.south -| 2607,0) -- (protsum.north -| 2607,0);
	\draw[idrel, plainmany] (sumquant.south -| 3045,0) -- (peptide.north -| 3045,0);
	\draw[rel, onemany] (peptide.east |- 0,2119) -- (pepparent.west |- 0,2119);
	\draw[rel, onemany] (peptide.east |- 0,2214) -- (indpeptide.west |- 0,2214);
	\draw[rel, manyone] (sbprotsum.east |- 0,2129) -- (protsum.west |- 0,2129);
	\draw[idrel, onemany] (protsum.south -| 2580,0) -- (protsumheader.north -| 2580,0);
	\draw[rel, onemany] (protsumheader.south -| 2500,0) -- (psdatafilter.north -| 2500,0);
	\draw[rel, onemany] (protsumheader.south -| 2672,0) -- (nspinfo.north -| 2672,0);
	\draw[rel, onemany] (nspinfo.south -| 2722,0) -- (nspdist.north -| 2722,0);

	\draw[apdred, line width=0.9pt] (2107,2) rectangle (3830,386);
	\node[comptitle, text=apdred] (apdtitle) at (2968,15) {APD Component};
	\draw[reqblue, line width=1.1pt] (296,1721) rectangle (1612,2566);
	\node[comptitle, text=reqblue, anchor=west] (reqtitle) at (300,2051) {Experiment Request Component};
	\draw[ppgreen, line width=1.1pt] (2041,1738) rectangle (3828,2784);
	\node[comptitle, text=ppgreen, anchor=west] (pptitle) at (2046,1756) {Protein Prophet Component};
\end{tikzpicture}
\end{document}
